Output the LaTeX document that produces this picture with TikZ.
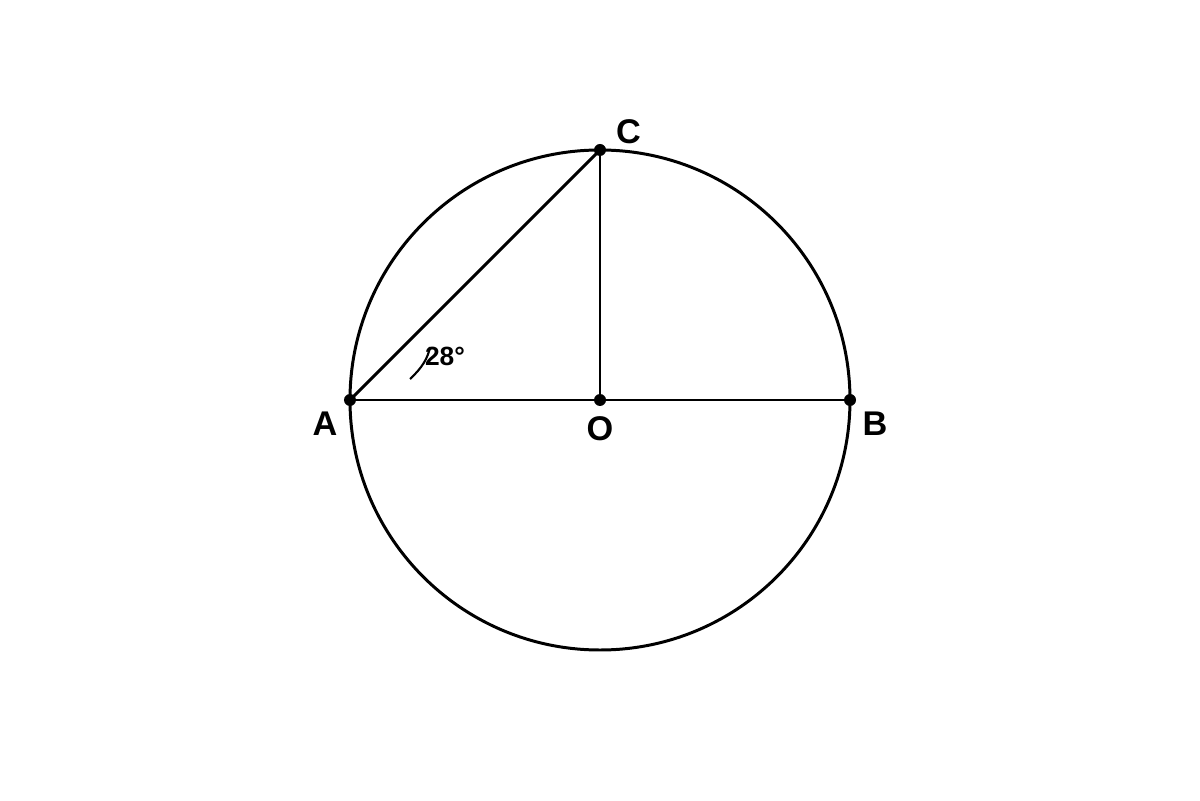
\documentclass[tikz,border=0pt]{standalone}
\usepackage{fontspec}
\setmainfont{Liberation Sans}
\begin{document}
\begin{tikzpicture}[line width=1.7pt,
    lbl/.style={font=\bfseries\fontsize{19.5}{22}\selectfont},
    anglbl/.style={font=\bfseries\fontsize{15}{17}\selectfont}]
      \useasboundingbox (-12,-8) rectangle (12,8);

      \coordinate (O) at (0,0);
      \coordinate (A) at (180:5);
      \coordinate (B) at (0:5);
      \coordinate (C) at (90:5);

      \draw (O) circle [radius=5];
      \draw (A) -- (B);
      \draw (A) -- (C);
      \draw (O) -- (C);

      \draw[line width=1.2pt] (-3.8,0.42) .. controls (-3.56,0.64) and (-3.44,0.84) .. (-3.4,1.06);

	\foreach \p in {A,B,C,O}{
   	   \fill (\p) circle [radius=0.12];
  	}

	\node[lbl] (la) at (-5.5,-0.47) {A};
	\node[lbl] (lb) at (5.5,-0.47) {B};
	\node[lbl] (lc) at (0.57,5.36) {C};
	\node[lbl] (lo) at (0,-0.58) {O};
	\node[anglbl] (lang) at (-3.1,0.87) {28°};
\end{tikzpicture}
\end{document}
